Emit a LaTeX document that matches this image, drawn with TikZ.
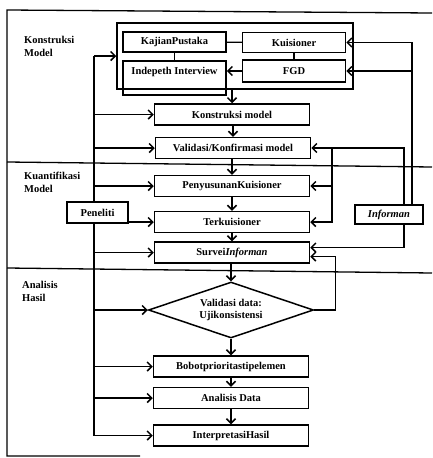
\documentclass[tikz,border=0pt]{standalone}
\usepackage{fontspec}
\setmainfont{Liberation Serif}
\usetikzlibrary{arrows.meta,shapes.geometric,calc}
\begin{document}
\begin{tikzpicture}[x=1pt,y=-1pt,
  font=\fontsize{10.5}{12}\selectfont\bfseries,
  box/.style={draw,line width=1.5pt,minimum width=155pt,minimum height=21pt,inner sep=1pt,fill=white},
  sbox/.style={draw,line width=1.5pt,minimum width=103pt,minimum height=20pt,inner sep=1pt},
  tag/.style={draw,line width=1.5pt,inner sep=1pt,fill=white},
  arr/.style={line width=1.3pt,-{Straight Barb[length=4.5pt,width=9pt,line width=1.5pt]}},
  ln/.style={line width=1.3pt},
  lbl/.style={align=left,anchor=north west,inner sep=0pt,font=\fontsize{10.5}{13}\selectfont\bfseries}]
\useasboundingbox (0,0) rectangle (432,458);
% frame and section separators
\draw[ln] (432,13) -- (7,10) -- (7,456) -- (140,456);
\draw[ln] (7,162) -- (432,167);
\draw[ln] (7,268) -- (432,273);
% section labels
\node[lbl] (l1) at (24,36) {Konstruksi\\Model};
\node[lbl] (l2) at (24,172) {Kuantifikasi\\Model};
\node[lbl] (l3) at (22,281) {Analisis\\Hasil};
% top group
\node[draw,line width=1.5pt,inner sep=0pt,minimum width=236pt,minimum height=66pt] (group) at (235,56) {};
\node[sbox] (kajian) at (174.5,42) {KajianPustaka};
\node[sbox] (kuis) at (294,42.5) {Kuisioner};
\node[draw,line width=1.5pt,minimum width=103pt,inner xsep=1pt,inner ysep=0pt,text height=14pt,text depth=20pt,anchor=north] (indepth) at (174.5,60) {Indepeth Interview};
\node[sbox,minimum height=22pt] (fgd) at (294,71) {FGD};
\draw[ln] (kajian) -- (kuis);
\draw[ln] (kuis) -- (fgd);
\draw[ln] (kajian) -- (indepth);
\draw[arr] (fgd.west) -- (fgd.west -| indepth.east);
% main column
\node[box] (konst) at (232,114.5) {Konstruksi model};
\node[box] (valid) at (233,148) {Validasi/Konfirmasi model};
\node[box] (peny) at (232,186) {PenyusunanKuisioner};
\node[box] (terk) at (232,222) {Terkuisioner};
\node[box] (surv) at (232,252.5) {Survei\textit{Informan}};
\node[diamond,draw,line width=1.5pt,aspect=2.95,minimum width=165pt,minimum height=56pt,inner sep=0pt,align=center] (diam) at (231,310) {Validasi data:\\Ujikonsistensi};
\node[box] (bobot) at (231,366.5) {Bobotprioritastipelemen};
\node[box] (anal) at (231,398) {Analisis Data};
\node[box] (interp) at (231,435.5) {InterpretasiHasil};
\draw[arr] (group.south -| konst.north) -- (konst.north);
\draw[arr] (konst.south -| valid.north) -- (valid.north);
\draw[arr] (valid.south -| peny.north) -- (peny.north);
\draw[arr] (peny) -- (terk);
\draw[arr] (terk) -- (surv);
\draw[arr] (surv.south -| diam.north) -- (diam.north);
\draw[arr] (diam) -- (bobot);
\draw[arr] (bobot) -- (anal);
\draw[arr] (anal) -- (interp);
% left trunk (Peneliti)
\coordinate (trunk) at (94,0);
\draw[ln] (trunk |- group.west) -- (trunk |- interp.west);
\foreach \n in {group,konst,valid,peny,terk,surv,diam,bobot,anal,interp}
  \draw[arr] (trunk |- \n.west) -- (\n.west);
\node[tag,minimum width=61pt,minimum height=21pt] (pen) at (97.5,212.5) {Peneliti};
% right side (Informan)
\node[tag,minimum width=68pt,minimum height=19pt] (inf) at (389,214.5) {\itshape Informan};
\coordinate (ra) at (412,0);
\coordinate (rb) at (404,0);
\coordinate (rv) at (332,0);
\draw[arr] (ra |- inf.north) |- (kuis.east);
\draw[arr] (ra |- fgd.east) -- (fgd.east);
\draw[arr] (rb |- inf.north) |- (valid.east);
\draw[arr] (rv |- valid.east) |- (peny.east);
\draw[arr] (rv |- valid.east) |- (terk.east);
\draw[arr] (rb |- inf.south) |- ([yshift=5pt]surv.east);
\draw[arr] (diam.east) -- ++(21,0) |- ([yshift=-4pt]surv.east);
\end{tikzpicture}
\end{document}
